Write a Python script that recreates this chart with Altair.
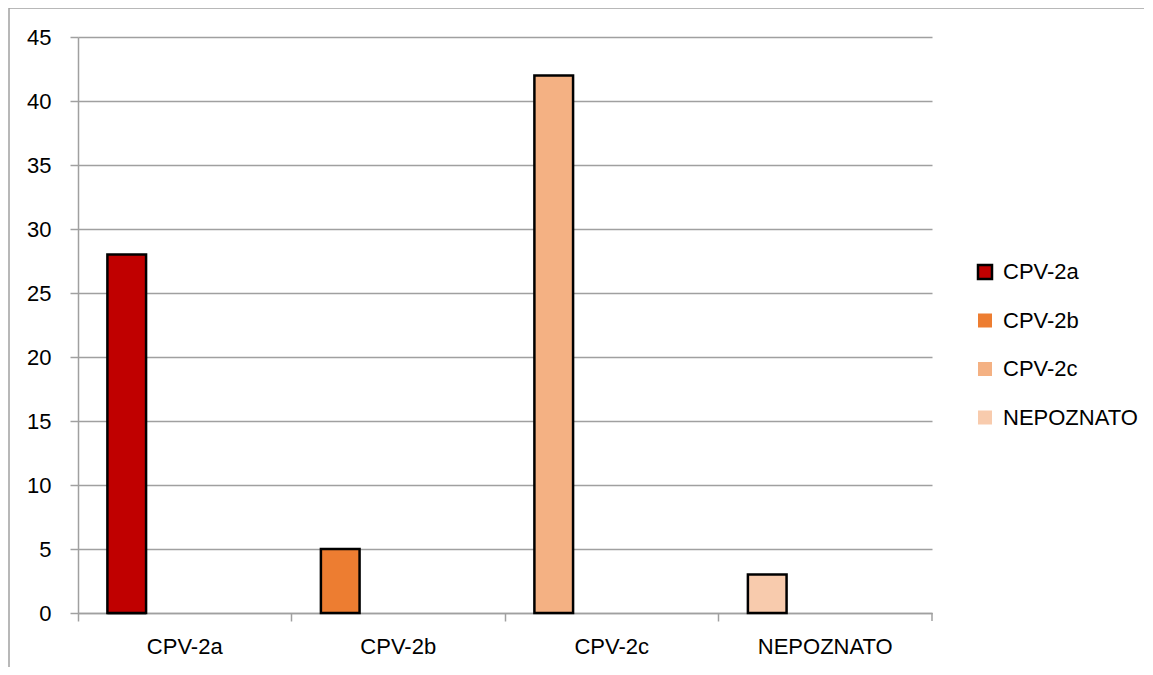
import altair as alt
import pandas as pd

categories = ["CPV-2a", "CPV-2b", "CPV-2c", "NEPOZNATO"]
values = [28, 5, 42, 3]
colors = ["#C00000", "#ED7D31", "#F4B183", "#F8CBAD"]
legend_strokes = ["black", "transparent", "transparent", "transparent"]
y_ticks = [0, 5, 10, 15, 20, 25, 30, 35, 40, 45]

df = pd.DataFrame({"cat": categories, "val": values, "slot": ["0"] * len(categories),
                   "zero": [0] * len(categories)})

FONT = "Liberation Sans"
GRAY = "#A0A0A0"
W, H = 854, 576
FS = 22

x_enc = alt.X("cat:N", sort=categories,
              scale=alt.Scale(paddingInner=0, paddingOuter=0),
              axis=alt.Axis(title=None, labelAngle=0, bandPosition=0, tickSize=8,
                            tickColor=GRAY, domainColor=GRAY, labelFontSize=FS,
                            labelFont=FONT, labelColor="black", labelPadding=15,
                            grid=False, tickWidth=1.5, domainWidth=1.5))
xoff_enc = alt.XOffset("slot:N", scale=alt.Scale(domain=["0", "1", "2", "3"],
                                                 paddingInner=0, paddingOuter=0.76))
y_scale = alt.Scale(domain=[0, 45], nice=False)
y_axis = alt.Axis(title=None, values=y_ticks, tickSize=8, tickColor=GRAY,
                  domainColor=GRAY, gridColor=GRAY, labelFontSize=FS,
                  labelFont=FONT, labelColor="black", labelPadding=19,
                  tickWidth=1.5, domainWidth=1.5, gridWidth=1.5)

leg = dict(title=None, orient="none", legendX=896, legendY=224,
           symbolType="square", symbolSize=196,
           symbolStrokeWidth=2.5, symbolOpacity=1,
           labelFontSize=FS, labelFont=FONT, labelColor="black",
           rowPadding=24.5, labelOffset=7)

legend_layer = alt.Chart(df).mark_bar(strokeWidth=2.5).encode(
    x=x_enc, xOffset=xoff_enc,
    y=alt.Y("zero:Q", scale=y_scale, axis=y_axis),
    fill=alt.Fill("cat:N", sort=categories,
                  scale=alt.Scale(domain=categories, range=colors),
                  legend=alt.Legend(**leg)),
    stroke=alt.Stroke("cat:N", sort=categories,
                      scale=alt.Scale(domain=categories, range=legend_strokes),
                      legend=alt.Legend(**leg)),
)

bars = alt.Chart(df).mark_bar(stroke="black", strokeWidth=2.5, fillOpacity=1).encode(
    x=x_enc, xOffset=xoff_enc,
    y=alt.Y("val:Q", scale=y_scale, axis=y_axis),
    fill=alt.Fill("cat:N", sort=categories,
                  scale=alt.Scale(domain=categories, range=colors), legend=None),
)

one = alt.Data(values=[{"k": 1}])
end_tick = alt.Chart(one).mark_rule(color=GRAY, strokeWidth=1.5).encode(
    x=alt.value(W), y=alt.value(H), y2=alt.value(H + 8))
border_left = alt.Chart(one).mark_rule(color=GRAY, strokeWidth=1.5).encode(
    x=alt.value(-69), y=alt.value(-29), y2=alt.value(H + 60))
border_top = alt.Chart(one).mark_rule(color=GRAY, strokeWidth=1.5).encode(
    x=alt.value(-69), x2=alt.value(W + 212), y=alt.value(-29))

chart = alt.layer(legend_layer, bars, end_tick, border_left, border_top).resolve_scale(
    fill="independent", stroke="independent"
).properties(
    width=W, height=H,
    autosize=alt.AutoSizeParams(type="none"),
    padding={"left": 70, "top": 29, "right": 213, "bottom": 54},
).configure(background="white").configure_view(stroke=None, strokeWidth=0)

chart.save("out.html", embed_options={"renderer": "svg", "actions": False})
